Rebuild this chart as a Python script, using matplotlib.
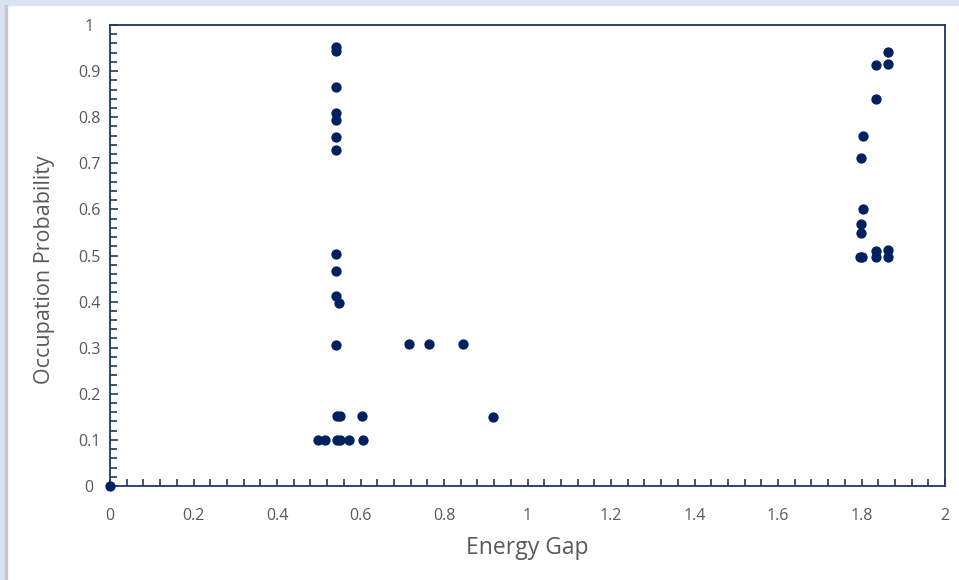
import matplotlib
matplotlib.use("Agg")
import matplotlib.pyplot as plt
from matplotlib.patches import Rectangle
from matplotlib.ticker import MultipleLocator

# energy gap / occupation probability pairs
gap = [0.0,
       0.541, 0.541, 0.541, 0.541, 0.541, 0.541, 0.541,
       0.541, 0.541, 0.541, 0.549, 0.541,
       0.544, 0.551, 0.603,
       0.499, 0.515, 0.544, 0.551, 0.572, 0.607,
       0.717, 0.765, 0.845, 0.918,
       1.863, 1.834, 1.863, 1.834, 1.803, 1.799,
       1.803, 1.799, 1.799, 1.797, 1.800, 1.834, 1.834, 1.863, 1.863]
prob = [0.0,
        0.953, 0.944, 0.865, 0.810, 0.794, 0.758, 0.729,
        0.503, 0.467, 0.412, 0.398, 0.306,
        0.152, 0.152, 0.152,
        0.100, 0.100, 0.100, 0.100, 0.100, 0.100,
        0.307, 0.307, 0.307, 0.150,
        0.941, 0.913, 0.916, 0.839, 0.759, 0.712,
        0.601, 0.568, 0.548, 0.497, 0.497, 0.510, 0.496, 0.513, 0.496]

xticks = [0, 0.2, 0.4, 0.6, 0.8, 1, 1.2, 1.4, 1.6, 1.8, 2]
xlabels = ["0", "0.2", "0.4", "0.6", "0.8", "1", "1.2", "1.4", "1.6", "1.8", "2"]
yticks = [0, 0.1, 0.2, 0.3, 0.4, 0.5, 0.6, 0.7, 0.8, 0.9, 1]
ylabels = ["0", "0.1", "0.2", "0.3", "0.4", "0.5", "0.6", "0.7", "0.8", "0.9", "1"]

navy = "#002060"
axis_col = "#1f3864"
txt = "#595959"

plt.rcParams["font.family"] = ["Open Sans", "DejaVu Sans"]

fig = plt.figure(figsize=(9.59, 5.8), dpi=100)
# window chrome around the chart
fig.patches.append(Rectangle((0, 1 - 5 / 580), 1, 5 / 580, transform=fig.transFigure,
                             color="#dae3f1", zorder=0))
fig.patches.append(Rectangle((0, 0), 5 / 959, 1, transform=fig.transFigure,
                             color="#dae3f1", zorder=0))
fig.patches.append(Rectangle((5 / 959, 0), 2 / 959, 1 - 5 / 580, transform=fig.transFigure,
                             color="#c8c8c8", zorder=0))

ax = fig.add_axes([110 / 959, 1 - 486 / 580, 835 / 959, 461 / 580])
ax.scatter(gap, prob, s=55, color=navy, zorder=3, clip_on=False, linewidths=0)

ax.set_xticks(xticks)
ax.set_xticklabels(xlabels)
ax.set_yticks(yticks)
ax.set_yticklabels(ylabels)
ax.xaxis.set_minor_locator(MultipleLocator(0.04))
ax.yaxis.set_minor_locator(MultipleLocator(0.02))
ax.set_xlim(0, 2)
ax.set_ylim(0, 1)

ax.tick_params(axis="both", which="both", direction="in", color=axis_col,
               labelcolor=txt, labelsize=11.5, width=1.2)
ax.tick_params(axis="x", which="major", length=5, pad=16, top=False)
ax.tick_params(axis="x", which="minor", length=5, top=False)
ax.tick_params(axis="y", which="major", length=6, pad=15, right=False)
ax.tick_params(axis="y", which="minor", length=5, right=False)
for lab in ax.get_yticklabels():
    lab.set_horizontalalignment("center")
for sp in ax.spines.values():
    sp.set_color(axis_col)
    sp.set_linewidth(1.3)

ax.set_xlabel("Energy Gap", fontsize=16.5, color=txt)
ax.set_ylabel("Occupation Probability", fontsize=15.5, color=txt)
ax.xaxis.set_label_coords(0.5, -(548 - 486) / 461, transform=ax.transAxes)
ax.yaxis.set_label_coords(-(110 - 45) / 835, (486 - 270) / 461, transform=ax.transAxes)
ax.xaxis.label.set_verticalalignment("center")
ax.yaxis.label.set_verticalalignment("center")
ax.yaxis.label.set_horizontalalignment("center")

fig.savefig("out.png", dpi=100)
